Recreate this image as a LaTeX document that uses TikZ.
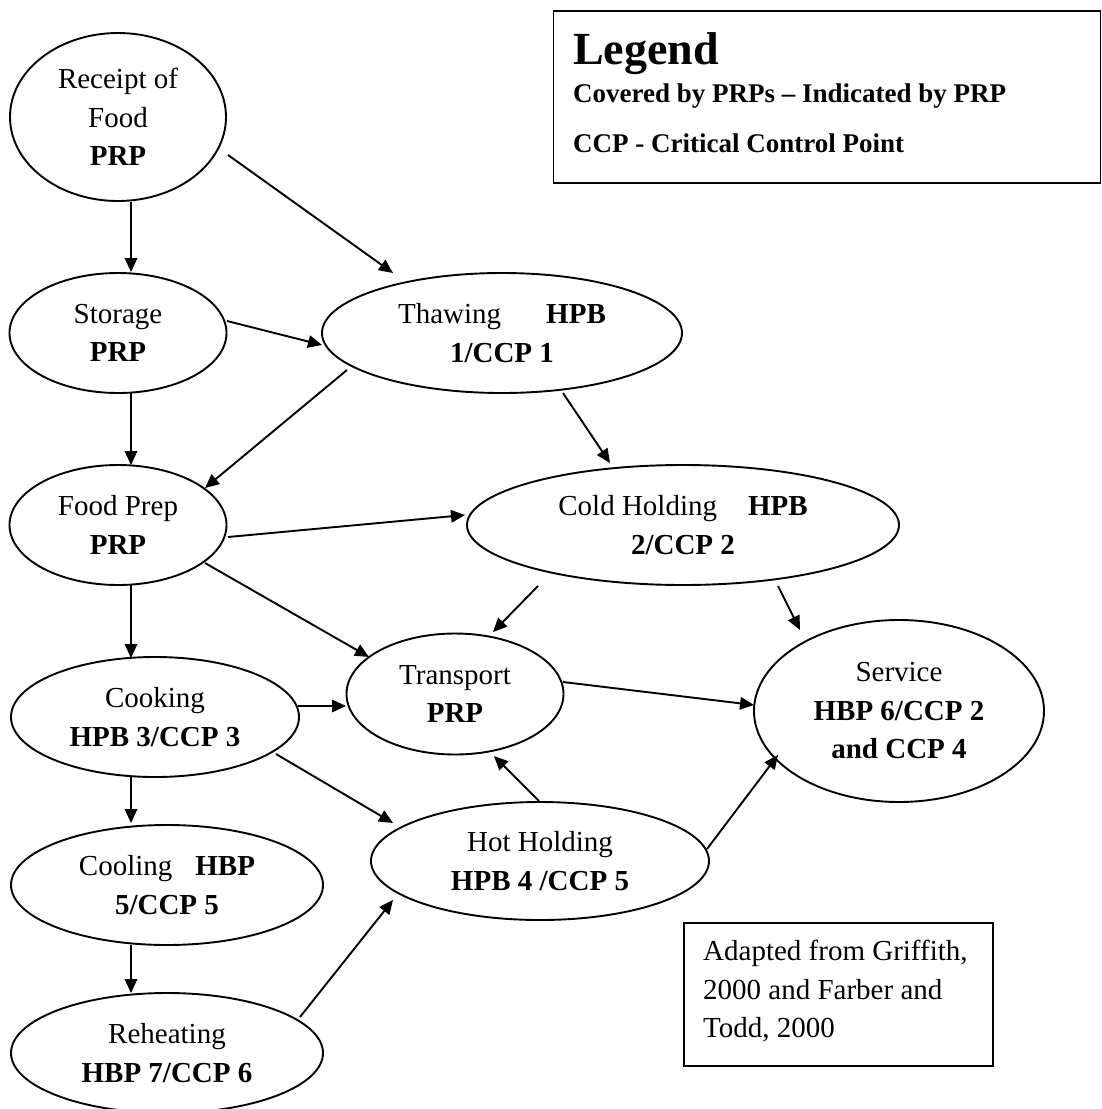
\documentclass[tikz,border=0pt]{standalone}
\usepackage{fontspec}
\setmainfont{Liberation Serif}
\usetikzlibrary{arrows.meta,calc,shapes.geometric}
\begin{document}
\begin{tikzpicture}[x=1pt,y=-1pt,
  stage/.style={draw,ellipse,line width=1.9pt,inner sep=0pt,align=center,
    font=\fontsize{29}{38.5}\selectfont},
  arr/.style={line width=1.9pt,-{Triangle[length=14pt,width=12.5pt]}},
  frame/.style={draw,line width=1.9pt,inner sep=0pt},
  legline/.style={anchor=base west,inner sep=0pt,font=\fontsize{27}{32}\selectfont\bfseries}]
\useasboundingbox (0,0) rectangle (1101,1109);

% stages
\node[stage,minimum width=216pt,minimum height=168pt] (receipt) at (118,117) {Receipt of\\Food\\\textbf{PRP}};
\node[stage,minimum width=217pt,minimum height=120pt] (storage) at (118,333) {Storage\\\textbf{PRP}};
\node[stage,minimum width=360pt,minimum height=120pt] (thaw) at (502,333) {Thawing\hspace{45pt}\textbf{HPB}\\\textbf{1/CCP 1}};
\node[stage,minimum width=217pt,minimum height=120pt] (prep) at (118,525) {Food Prep\\\textbf{PRP}};
\node[stage,minimum width=432pt,minimum height=120pt] (cold) at (683,525) {Cold Holding\hspace{31pt}\textbf{HPB}\\\textbf{2/CCP 2}};
\node[stage,minimum width=288pt,minimum height=120pt] (cook) at (155,717) {Cooking\\\textbf{HPB 3/CCP 3}};
\node[stage,minimum width=217pt,minimum height=121pt] (transport) at (455,694) {Transport\\\textbf{PRP}};
\node[stage,minimum width=290pt,minimum height=182pt] (service) at (899,711) {Service\\\textbf{HBP 6/CCP 2}\\\textbf{and CCP 4}};
\node[stage,minimum width=338pt,minimum height=118pt] (hot) at (540,861) {Hot Holding\\\textbf{HPB 4 /CCP 5}};
\node[stage,minimum width=312pt,minimum height=120pt] (cool) at (167,885) {Cooling\hspace{23pt}\textbf{HBP}\\\textbf{5/CCP 5}};
\node[stage,minimum width=312pt,minimum height=120pt] (reheat) at (167,1053) {Reheating\\\textbf{HBP 7/CCP 6}};

% connectors
\draw[arr] ($(receipt)+(13,85)$) -- ($(storage)+(13,-61)$);
\draw[arr] ($(receipt)+(110,38)$) -- ($(thaw)+(-109,-60)$);
\draw[arr] ($(storage)+(109,-12)$) -- ($(thaw)+(-180,12)$);
\draw[arr] ($(storage)+(13,60)$) -- ($(prep)+(13,-60)$);
\draw[arr] ($(thaw)+(-155,37)$) -- ($(prep)+(87,-37)$);
\draw[arr] ($(thaw)+(61,60)$) -- ($(cold)+(-73,-62)$);
\draw[arr] ($(prep)+(110,12)$) -- ($(cold)+(-218,-10)$);
\draw[arr] ($(prep)+(87,38)$) -- ($(transport)+(-86,-37)$);
\draw[arr] ($(prep)+(13,60)$) -- ($(cook)+(-24,-59)$);
\draw[arr] ($(cold)+(-145,61)$) -- ($(transport)+(38,-62)$);
\draw[arr] ($(cold)+(95,61)$) -- ($(service)+(-99,-81)$);
\draw[arr] ($(cook)+(143,-11)$) -- ($(transport)+(-109,12)$);
\draw[arr] ($(cook)+(121,37)$) -- ($(hot)+(-147,-38)$);
\draw[arr] ($(transport)+(108,-12)$) -- ($(service)+(-145,-6)$);
\draw[arr] ($(hot)+(-1,-60)$) -- ($(transport)+(39,62)$);
\draw[arr] ($(hot)+(167,-12)$) -- ($(service)+(-121,44)$);
\draw[arr] ($(cook)+(-24,60)$) -- ($(cool)+(-36,-62)$);
\draw[arr] ($(cool)+(-36,60)$) -- ($(reheat)+(-36,-60)$);
\draw[arr] ($(reheat)+(133,-36)$) -- ($(hot)+(-147,39)$);

% legend
\node[frame,anchor=north west,minimum width=547pt,minimum height=172pt] (legend) at (552.5,10) {};
\node[anchor=base west,inner sep=0pt,font=\fontsize{46}{50}\selectfont\bfseries] (legtitle) at (573,64) {Legend};
\node[legline] (legprp) at (573,102) {Covered by PRPs – Indicated by PRP};
\node[legline] (legccp) at (573,152) {CCP - Critical Control Point};

% source note
\node[frame,anchor=north west,minimum width=309pt,minimum height=143pt] (srcbox) at (683,922) {};
\node[anchor=north west,inner sep=0pt,align=left,font=\fontsize{29}{38.5}\selectfont] (srctext) at (703,940) {Adapted from Griffith,\\2000 and Farber and\\Todd, 2000};
\end{tikzpicture}
\end{document}
